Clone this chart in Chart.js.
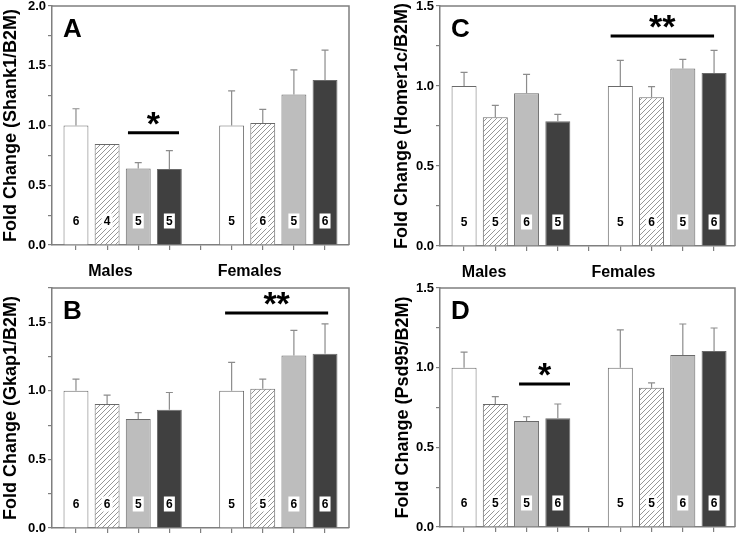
<!DOCTYPE html>
<html>
<head>
<meta charset="utf-8">
<script src="https://cdn.jsdelivr.net/npm/chart.js@4.4.0/dist/chart.umd.min.js"></script>
<style>
  html, body { margin: 0; padding: 0; background: #fff; }
  #wrap { position: relative; width: 739px; height: 534px; overflow: hidden; }
  canvas { position: absolute; }
</style>
</head>
<body>
<div id="wrap">
  <canvas id="panelA" width="370" height="280" style="left:0;top:0"></canvas>
  <canvas id="panelC" width="369" height="280" style="left:370px;top:0"></canvas>
  <canvas id="panelB" width="370" height="254" style="left:0;top:280px"></canvas>
  <canvas id="panelD" width="369" height="254" style="left:370px;top:280px"></canvas>
</div>
<script>
// bar positions: 4 male bars, gap, 4 female bars
const barX = [1, 2, 3, 4, 6, 7, 8, 9];
const tickX = [1, 2, 3, 4, 5, 6, 7, 8, 9];

// A: Shank1
const meanA = [1.0, 0.845, 0.64, 0.635, 1.0, 1.02, 1.26, 1.38];
const semA  = [0.14, 0.0, 0.05, 0.155, 0.29, 0.115, 0.205, 0.25];
const nA    = [6, 4, 5, 5, 5, 6, 5, 6];

// B: Gkap1
const meanB = [1.0, 0.905, 0.795, 0.862, 1.0, 1.015, 1.258, 1.27];
const semB  = [0.086, 0.064, 0.046, 0.126, 0.207, 0.071, 0.183, 0.218];
const nB    = [6, 6, 5, 6, 5, 5, 6, 6];

// C: Homer1c
const meanC = [1.0, 0.804, 0.955, 0.779, 1.0, 0.929, 1.11, 1.082];
const semC  = [0.085, 0.075, 0.118, 0.044, 0.16, 0.067, 0.057, 0.141];
const nC    = [5, 5, 6, 5, 5, 6, 5, 6];

// D: Psd95
const meanD = [1.0, 0.772, 0.665, 0.682, 1.0, 0.874, 1.08, 1.105];
const semD  = [0.098, 0.046, 0.027, 0.09, 0.237, 0.03, 0.194, 0.144];
const nD    = [6, 5, 5, 6, 5, 5, 6, 6];

// significance bars: [from x, to x, y value, stars]
const sigA = [2.67, 4.31, 0.94, '*'];
const sigB = [5.79, 9.1, 1.568, '**'];
const sigC = [5.69, 9.0, 1.3125, '**'];
const sigD = [2.76, 4.39, 0.898, '*'];

const groupNames = ['Males', 'Females'];
const groupPosA = [2.11, 6.58];
const groupPosC = [1.64, 6.1];

const FONT = '"Liberation Sans", Arial, Helvetica, sans-serif';
Chart.defaults.font.family = FONT;
Chart.defaults.color = '#000';

function hatchPattern() {
  const c = document.createElement('canvas');
  c.width = 5; c.height = 5;
  const g = c.getContext('2d');
  g.fillStyle = '#fff';
  g.fillRect(0, 0, 5, 5);
  g.strokeStyle = '#8a8a8a';
  g.lineWidth = 0.9;
  g.beginPath();
  g.moveTo(0, 5); g.lineTo(5, 0);
  g.moveTo(-1, 1); g.lineTo(1, -1);
  g.moveTo(4, 6); g.lineTo(6, 4);
  g.stroke();
  return g.createPattern(c, 'repeat');
}
const HATCH = hatchPattern();
const FILLS = ['#ffffff', HATCH, '#bdbdbd', '#404040'];
const AXIS = '#7f7f7f';

const panelPlugin = {
  id: 'panel',
  afterDatasetsDraw(chart, args, opts) {
    const { ctx, chartArea: a, scales: { x, y } } = chart;
    const pts = chart.data.datasets[0].data;
    ctx.save();

    // top / right frame
    ctx.strokeStyle = AXIS;
    ctx.lineWidth = 1.5;
    ctx.beginPath();
    ctx.moveTo(a.left, a.top);
    ctx.lineTo(a.right, a.top);
    ctx.lineTo(a.right, a.bottom);
    ctx.stroke();

    // upper error whiskers
    ctx.strokeStyle = '#8c8c8c';
    ctx.lineWidth = 1.2;
    pts.forEach((p, i) => {
      if (!opts.sem[i]) return;
      const px = x.getPixelForValue(p.x);
      const y0 = y.getPixelForValue(p.y);
      const y1 = y.getPixelForValue(p.y + opts.sem[i]);
      ctx.beginPath();
      ctx.moveTo(px, y0);
      ctx.lineTo(px, y1);
      ctx.moveTo(px - 3.5, y1);
      ctx.lineTo(px + 3.5, y1);
      ctx.stroke();
    });

    // n labels in white boxes
    ctx.font = 'bold 12px ' + FONT;
    ctx.textAlign = 'center';
    ctx.textBaseline = 'middle';
    pts.forEach((p, i) => {
      const px = x.getPixelForValue(p.x);
      const cy = a.bottom - 24;
      ctx.fillStyle = '#fff';
      ctx.fillRect(px - 5.5, cy - 7.5, 11, 15);
      ctx.fillStyle = '#000';
      ctx.fillText(String(opts.n[i]), px, cy + 0.5);
    });

    // significance line + stars
    const s = opts.sig;
    const sy = y.getPixelForValue(s[2]);
    const sx0 = x.getPixelForValue(s[0]);
    const sx1 = x.getPixelForValue(s[1]);
    ctx.strokeStyle = '#000';
    ctx.lineWidth = 3;
    ctx.beginPath();
    ctx.moveTo(sx0, sy);
    ctx.lineTo(sx1, sy);
    ctx.stroke();
    ctx.font = 'bold 34px ' + FONT;
    ctx.textBaseline = 'alphabetic';
    ctx.fillText(s[3], (sx0 + sx1) / 2, sy + 2);

    // panel letter
    ctx.font = 'bold 26px ' + FONT;
    ctx.textAlign = 'left';
    ctx.fillText(opts.letter, a.left + 11, a.top + 31);

    // group labels under the axis
    if (opts.groups) {
      ctx.font = 'bold 16px ' + FONT;
      ctx.textAlign = 'center';
      opts.groups.forEach((gx, i) => {
        ctx.fillText(groupNames[i], x.getPixelForValue(gx), a.bottom + 31);
      });
    }
    ctx.restore();
  }
};

function makePanel(id, cfg) {
  const data = barX.map((bx, i) => ({ x: bx, y: cfg.mean[i] }));
  return new Chart(document.getElementById(id), {
    type: 'bar',
    data: {
      datasets: [{
        data,
        backgroundColor: barX.map((_, i) => FILLS[i % 4]),
        borderColor: '#6a6a6a',
        borderWidth: 1,
        borderSkipped: 'bottom',
        barPercentage: 0.8,
        categoryPercentage: 1,
      }],
    },
    options: {
      responsive: false,
      animation: false,
      devicePixelRatio: 1,
      layout: { padding: { left: 0, right: cfg.padRight, top: cfg.padTop, bottom: 0 } },
      scales: {
        x: {
          type: 'linear',
          offset: false,
          min: 0.23,
          max: cfg.xMax,
          afterBuildTicks: (sc) => { sc.ticks = tickX.map(v => ({ value: v })); },
          afterFit: (sc) => { sc.height = cfg.xHeight; sc.paddingLeft = 0; sc.paddingRight = 0; },
          ticks: { display: false },
          grid: { offset: false, drawOnChartArea: false, drawTicks: true, tickLength: 5, color: AXIS, lineWidth: 1.2 },
          border: { display: true, color: AXIS, width: 1.5 },
        },
        y: {
          min: 0,
          max: cfg.yMax,
          afterBuildTicks: (sc) => {
            const t = [];
            for (let v = 0; v <= cfg.yMax + 1e-9; v += 0.25) t.push({ value: Math.round(v * 100) / 100 });
            sc.ticks = t;
          },
          afterFit: (sc) => { sc.width = cfg.yWidth; sc.paddingTop = 0; sc.paddingBottom = 0; },
          ticks: {
            font: { size: 13, weight: 'bold' },
            color: '#000',
            padding: 2,
            callback: (v) => (Math.abs(v * 2 - Math.round(v * 2)) < 1e-6 ? v.toFixed(1) : ''),
          },
          grid: { drawOnChartArea: false, drawTicks: true, tickLength: 4, color: AXIS, lineWidth: 1.2 },
          border: { display: true, color: AXIS, width: 1.5 },
          title: {
            display: true,
            text: cfg.title,
            color: '#000',
            font: { size: 18, weight: 'bold' },
            padding: { top: cfg.titlePad, bottom: 0 },
          },
        },
      },
      plugins: {
        legend: { display: false },
        tooltip: { enabled: false },
        panel: { sem: cfg.sem, n: cfg.n, sig: cfg.sig, letter: cfg.letter, groups: cfg.groups },
      },
    },
    plugins: [panelPlugin],
  });
}

makePanel('panelA', {
  mean: meanA, sem: semA, n: nA, sig: sigA, letter: 'A', groups: groupPosA,
  title: 'Fold Change (Shank1/B2M)', yMax: 2.0,
  yWidth: 52, padRight: 21, padTop: 6, xHeight: 35, xMax: 9.77, titlePad: 0,
});
makePanel('panelC', {
  mean: meanC, sem: semC, n: nC, sig: sigC, letter: 'C', groups: groupPosC,
  title: 'Fold Change (Homer1c/B2M)', yMax: 1.5,
  yWidth: 70, padRight: 4, padTop: 6, xHeight: 34, xMax: 9.67, titlePad: 21,
});
makePanel('panelB', {
  mean: meanB, sem: semB, n: nB, sig: sigB, letter: 'B', groups: null,
  title: 'Fold Change (Gkap1/B2M)', yMax: 1.75,
  yWidth: 52, padRight: 21, padTop: 8, xHeight: 6, xMax: 9.77, titlePad: 0,
});
makePanel('panelD', {
  mean: meanD, sem: semD, n: nD, sig: sigD, letter: 'D', groups: null,
  title: 'Fold Change (Psd95/B2M)', yMax: 1.5,
  yWidth: 70, padRight: 4, padTop: 8, xHeight: 7, xMax: 9.67, titlePad: 22,
});
</script>
</body>
</html>
